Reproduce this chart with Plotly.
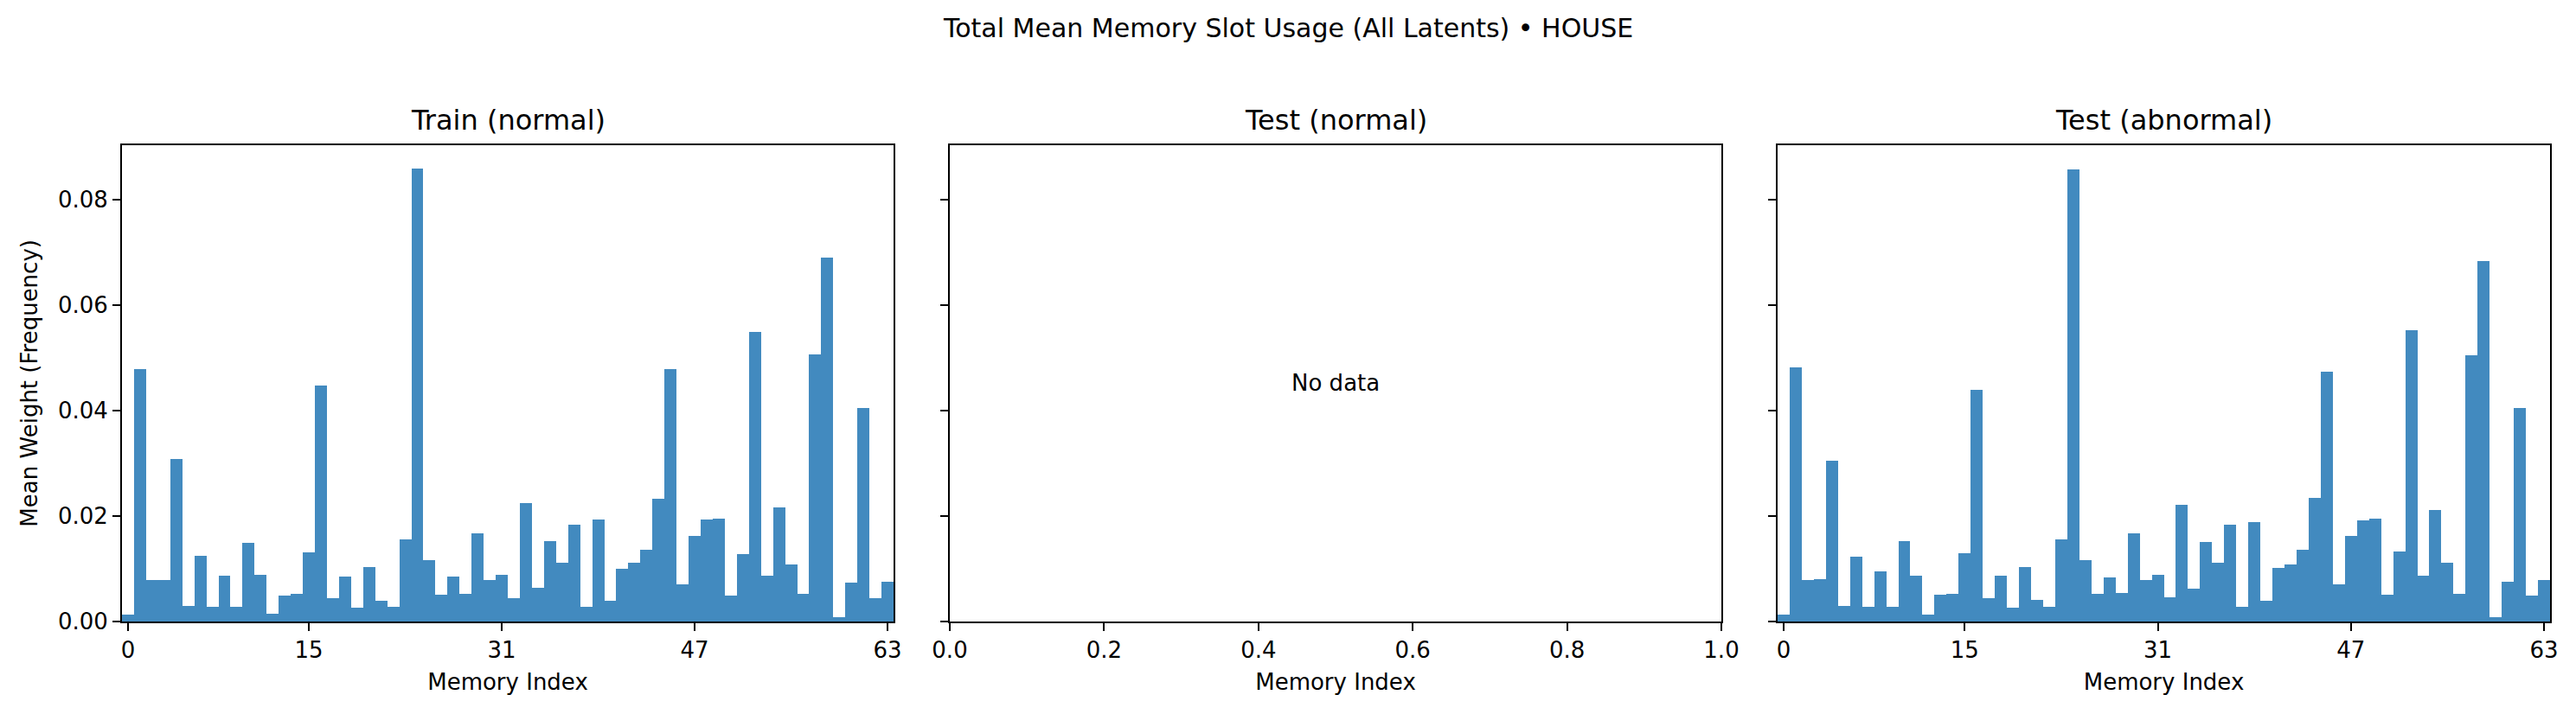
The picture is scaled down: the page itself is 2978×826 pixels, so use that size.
import plotly.graph_objects as go

# Datos
memory_index = list(range(64))
train_normal = [
    0.00144, 0.04796, 0.00784, 0.00784, 0.0309, 0.00295, 0.01254, 0.00276,
    0.00878, 0.00276, 0.01505, 0.00897, 0.00157, 0.00502, 0.00533, 0.01323,
    0.04483, 0.00451, 0.00865, 0.00263, 0.01041, 0.00401, 0.00288, 0.01568,
    0.08596, 0.01172, 0.0052, 0.00865, 0.00533, 0.0168, 0.00784, 0.00897,
    0.00451, 0.02257, 0.00652, 0.01536, 0.01116, 0.01843, 0.00276, 0.01944,
    0.00401, 0.0101, 0.01116, 0.01373, 0.02339, 0.04796, 0.00715, 0.0163,
    0.01944, 0.01963, 0.00502, 0.01292, 0.05499, 0.00878, 0.02176, 0.01091,
    0.00533, 0.05072, 0.0691, 0.00082, 0.00746, 0.04057, 0.00451, 0.00765,
]
test_normal = []
test_abnormal = [
    0.00144, 0.04828, 0.00784, 0.00815, 0.0306, 0.00295, 0.01241, 0.00276,
    0.00959, 0.00276, 0.01536, 0.00878, 0.00144, 0.0052, 0.00533, 0.01304,
    0.04401, 0.00451, 0.00878, 0.00263, 0.01041, 0.0042, 0.00288, 0.01568,
    0.08584, 0.01172, 0.00533, 0.00846, 0.00552, 0.0168, 0.00784, 0.00897,
    0.0047, 0.02226, 0.00633, 0.01517, 0.01116, 0.01843, 0.00276, 0.01894,
    0.00401, 0.01028, 0.01091, 0.01373, 0.02351, 0.04746, 0.00715, 0.0163,
    0.01931, 0.01963, 0.0052, 0.01336, 0.0553, 0.00878, 0.02126, 0.01122,
    0.00533, 0.0506, 0.06847, 0.00082, 0.00765, 0.04057, 0.00489, 0.00784,
]
x_ticks = [0, 15, 31, 47, 63]
y_ticks = [0.0, 0.02, 0.04, 0.06, 0.08]
panel_titles = ["Train (normal)", "Test (normal)", "Test (abnormal)"]

# la pagina tiene 8 px de margen, la figura empieza en (8, 8)
OFF = 8
W, H = 2978 - OFF, 826 - OFF
color_barra = "rgb(66,138,191)"
fuente = "DejaVu Sans"


def px_x(p):
    return (p - OFF) / W


def px_y(p):
    return 1 - (p - OFF) / H


fig = go.Figure()
fig.add_trace(go.Bar(x=memory_index, y=train_normal, width=1, marker=dict(color=color_barra, line=dict(width=0)),
                     xaxis="x", yaxis="y", showlegend=False))
fig.add_trace(go.Scatter(x=test_normal, y=test_normal, xaxis="x2", yaxis="y2", showlegend=False))
fig.add_trace(go.Bar(x=memory_index, y=test_abnormal, width=1, marker=dict(color=color_barra, line=dict(width=0)),
                     xaxis="x3", yaxis="y3", showlegend=False))

# posiciones de los paneles en pixeles de la pagina
x_dom = [(141, 1033), (1098, 1990), (2055, 2948)]
y_dom = [px_y(719), px_y(167.7)]

comun = dict(showline=True, mirror=True, linecolor="black", linewidth=2, showgrid=False, zeroline=False,
             ticks="outside", ticklen=9, tickwidth=2, tickcolor="black", automargin=False,
             tickfont=dict(family=fuente, size=26, color="black"))

layout = dict(
    width=W, height=H, margin=dict(l=0, r=0, t=0, b=0, autoexpand=False),
    paper_bgcolor="white", plot_bgcolor="white", bargap=0,
    font=dict(family=fuente, color="black"),
)
for i, (x0, x1) in enumerate(x_dom):
    sfx = "" if i == 0 else str(i + 1)
    xa = dict(comun, domain=[px_x(x0), px_x(x1)], anchor="y" + sfx,
              title=dict(text="Memory Index", font=dict(family=fuente, size=26, color="black"), standoff=14))
    if i == 1:
        xa.update(range=[0, 1], tickvals=[0, 0.2, 0.4, 0.6, 0.8, 1.0], tickformat=".1f")
    else:
        xa.update(range=[-0.5, 63.5], tickvals=x_ticks)
    ya = dict(comun, domain=y_dom, anchor="x" + sfx, range=[0, 0.0904], tickvals=y_ticks, tickformat=".2f")
    if i == 0:
        ya["title"] = dict(text="Mean Weight (Frequency)", font=dict(family=fuente, size=26, color="black"), standoff=16)
    else:
        ya["showticklabels"] = False
    layout["xaxis" + sfx] = xa
    layout["yaxis" + sfx] = ya

anotaciones = [dict(text="Total Mean Memory Slot Usage (All Latents) • HOUSE", x=px_x(1489), y=px_y(33),
                    xref="paper", yref="paper", xanchor="center", yanchor="middle", showarrow=False,
                    font=dict(family=fuente, size=30, color="black"))]
for (x0, x1), t in zip(x_dom, panel_titles):
    anotaciones.append(dict(text=t, x=px_x((x0 + x1) / 2), y=px_y(139), xref="paper", yref="paper",
                            xanchor="center", yanchor="middle", showarrow=False,
                            font=dict(family=fuente, size=32, color="black")))
anotaciones.append(dict(text="No data", x=0.5, y=0.5, xref="x2 domain", yref="y2 domain", showarrow=False,
                        xanchor="center", yanchor="middle", font=dict(family=fuente, size=26, color="black")))
layout["annotations"] = anotaciones

fig.update_layout(**layout)
fig.write_html("out.html")
